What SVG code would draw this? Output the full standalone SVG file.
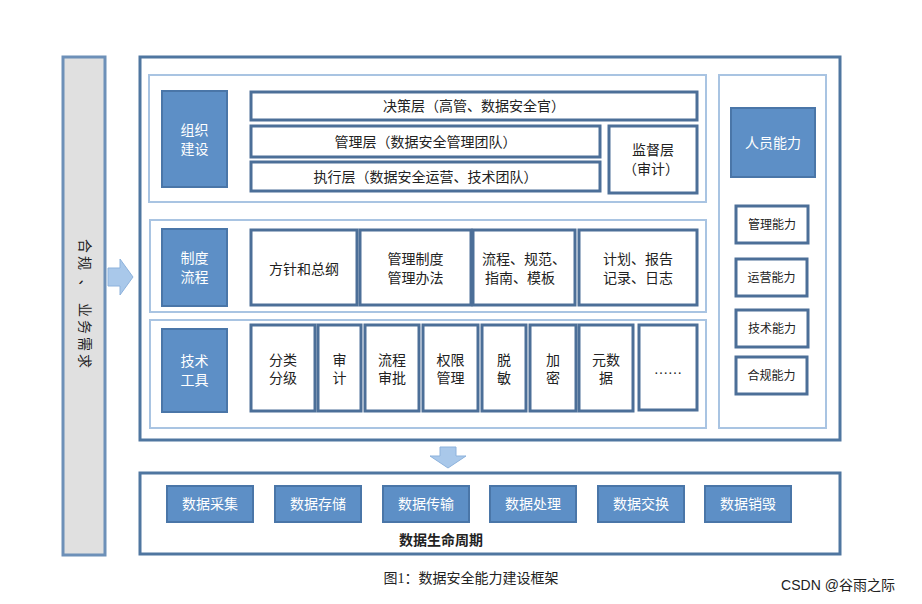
<svg xmlns="http://www.w3.org/2000/svg" width="922" height="604" viewBox="0 0 922 604">
<style>
text{font-family:"Liberation Serif","Noto Sans CJK SC",serif;font-size:14px;fill:#222;text-anchor:middle;dominant-baseline:central}
.panel{fill:#fff;stroke:#a9c4e2;stroke-width:2}
.outer{fill:#fff;stroke:#4f76a0;stroke-width:3}
.box{fill:#fff;stroke:#4c6f98;stroke-width:3}
.blue{fill:#5d8fc6;stroke:#4a76a8;stroke-width:2}
.wt{fill:#fff}
.sm{font-size:12px}
.arrow{fill:#a9c8ea;stroke:#8db2dc;stroke-width:1}
</style>
<rect width="922" height="604" fill="#fff"/>
<g id="left-bar">
<rect x="63" y="57" width="42" height="498" fill="#e0e0e0" stroke="#6d90b8" stroke-width="3"/>
<text transform="translate(84,305) rotate(90)" font-size="16" letter-spacing="3">合规 、 业务需求</text>
</g>
<g id="main">
<rect class="outer" x="140" y="57" width="700" height="383"/>
<rect class="panel" x="149" y="75" width="557" height="127"/>
<rect class="panel" x="150" y="220" width="556" height="92"/>
<rect class="panel" x="150" y="320" width="556" height="108"/>
<rect class="panel" x="719" y="75" width="107" height="353"/>
</g>
<g id="org">
<rect class="blue" x="162" y="91" width="65" height="96"/>
<text class="wt" x="194.5" y="130">组织</text><text class="wt" x="194.5" y="149">建设</text>
</g>
<g id="n-decide"><rect class="box" x="251" y="92" width="446" height="28"/><text x="474" y="106">决策层（高管、数据安全官）</text></g>
<g id="n-manage"><rect class="box" x="251" y="126" width="349" height="31"/><text x="425.5" y="142">管理层（数据安全管理团队）</text></g>
<g id="n-exec"><rect class="box" x="251" y="162" width="349" height="29"/><text x="425.5" y="177">执行层（数据安全运营、技术团队）</text></g>
<g id="n-audit"><rect class="box" x="609" y="126" width="88" height="67"/><text x="653" y="150">监督层</text><text x="651" y="169">（审计）</text></g>
<g id="policy">
<rect class="blue" x="162" y="229" width="65" height="77"/>
<text class="wt" x="194.5" y="258">制度</text><text class="wt" x="194.5" y="277">流程</text>
</g>
<g id="n-p1"><rect class="box" x="251" y="230" width="106" height="75"/><text x="304" y="269">方针和总纲</text></g>
<g id="n-p2"><rect class="box" x="360" y="230" width="111" height="75"/><text x="415.5" y="259">管理制度</text><text x="415.5" y="278">管理办法</text></g>
<g id="n-p3"><rect class="box" x="473" y="230" width="102" height="75"/><text x="524" y="259">流程、规范、</text><text x="520" y="278">指南、模板</text></g>
<g id="n-p4"><rect class="box" x="579" y="230" width="118" height="75"/><text x="638" y="259">计划、报告</text><text x="638" y="278">记录、日志</text></g>
<g id="tech">
<rect class="blue" x="162" y="329" width="65" height="83"/>
<text class="wt" x="194.5" y="361">技术</text><text class="wt" x="194.5" y="380">工具</text>
</g>
<g id="n-t1"><rect class="box" x="251" y="325" width="64" height="86"/><text x="283" y="360">分类</text><text x="283" y="378">分级</text></g>
<g id="n-t2"><rect class="box" x="318" y="325" width="43" height="86"/><text x="339.5" y="360">审</text><text x="339.5" y="378">计</text></g>
<g id="n-t3"><rect class="box" x="365" y="325" width="54" height="86"/><text x="392" y="360">流程</text><text x="392" y="378">审批</text></g>
<g id="n-t4"><rect class="box" x="423" y="325" width="55" height="86"/><text x="450.5" y="360">权限</text><text x="450.5" y="378">管理</text></g>
<g id="n-t5"><rect class="box" x="482" y="325" width="44" height="86"/><text x="504" y="360">脱</text><text x="504" y="378">敏</text></g>
<g id="n-t6"><rect class="box" x="530" y="325" width="46" height="86"/><text x="553" y="360">加</text><text x="553" y="378">密</text></g>
<g id="n-t7"><rect class="box" x="579" y="325" width="54" height="86"/><text x="606" y="360">元数</text><text x="606" y="378">据</text></g>
<g id="n-t8"><rect class="box" x="639" y="325" width="58" height="85"/><text x="668" y="369">……</text></g>
<g id="people"><rect class="blue" x="731" y="108" width="84" height="69"/><text class="wt" x="773" y="143">人员能力</text></g>
<g id="c1"><rect class="box" x="736" y="206" width="72" height="37"/><text class="sm" x="772" y="225">管理能力</text></g>
<g id="c2"><rect class="box" x="736" y="259" width="71" height="37"/><text class="sm" x="771.5" y="278">运营能力</text></g>
<g id="c3"><rect class="box" x="736" y="310" width="72" height="37"/><text class="sm" x="772" y="329">技术能力</text></g>
<g id="c4"><rect class="box" x="736" y="357" width="71" height="37"/><text class="sm" x="771.5" y="376">合规能力</text></g>
<g id="lifecycle">
<rect class="outer" x="140" y="473" width="700" height="81"/>
<text x="441" y="540" font-weight="bold">数据生命周期</text>
</g>
<g id="l1"><rect class="blue" x="167" y="486" width="86" height="36"/><text class="wt" x="210" y="504">数据采集</text></g>
<g id="l2"><rect class="blue" x="275" y="486" width="86" height="36"/><text class="wt" x="318" y="504">数据存储</text></g>
<g id="l3"><rect class="blue" x="383" y="486" width="86" height="36"/><text class="wt" x="426" y="504">数据传输</text></g>
<g id="l4"><rect class="blue" x="490" y="486" width="86" height="36"/><text class="wt" x="533" y="504">数据处理</text></g>
<g id="l5"><rect class="blue" x="598" y="486" width="86" height="36"/><text class="wt" x="641" y="504">数据交换</text></g>
<g id="l6"><rect class="blue" x="705" y="486" width="86" height="36"/><text class="wt" x="748" y="504">数据销毁</text></g>
<g id="connectors">
<polygon class="arrow" points="108,268 120,268 120,259 133,277 120,295 120,286 108,286"/>
<polygon class="arrow" points="440,447 456,447 456,456 466,456 448,468 430,456 440,456"/>
</g>
<text x="471" y="578" font-size="16">图1：数据安全能力建设框架</text>
<text x="838" y="585" style="font-family:'Liberation Sans','Noto Sans CJK SC',sans-serif" fill="#999" font-size="14">CSDN @谷雨之际</text>
</svg>
